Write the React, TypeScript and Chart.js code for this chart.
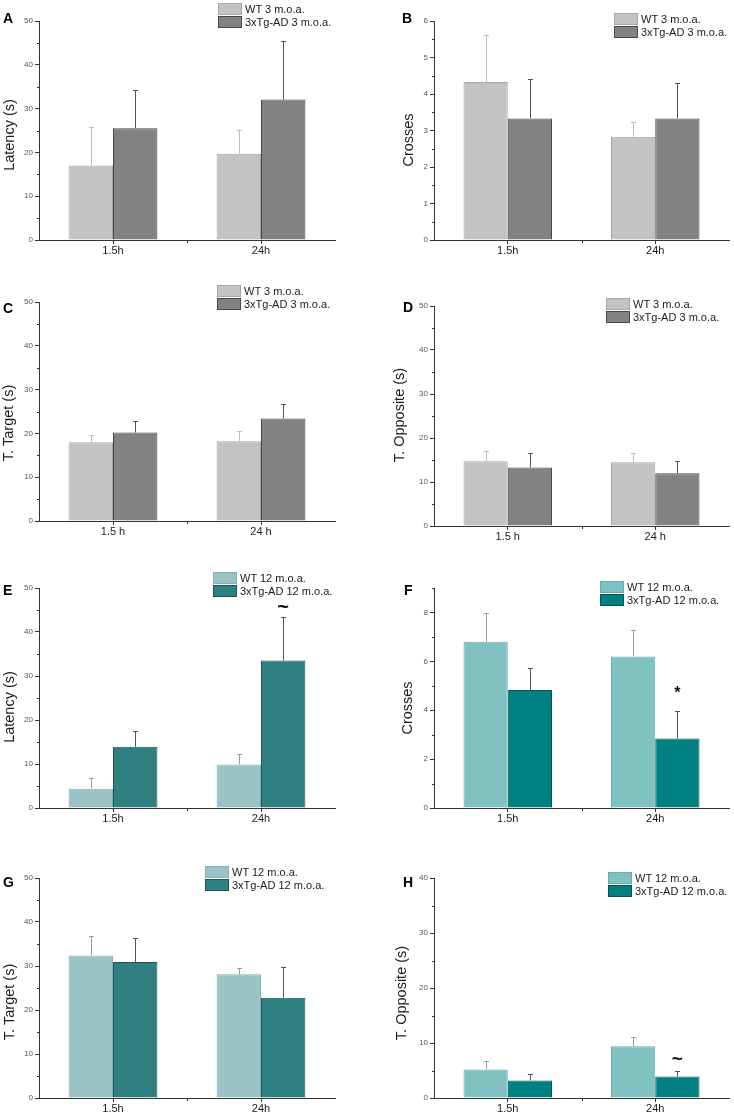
import React, { useEffect, useRef } from 'react';
import { Chart, registerables } from 'chart.js';

Chart.register(...registerables);

const FONT = 'Arial, "Liberation Sans", Helvetica, sans-serif';

// ---------------- data ----------------
const timeLabels = ['1.5h', '24h'];
const timeLabelsSpaced = ['1.5 h', '24 h'];
const legend3 = ['WT 3 m.o.a.', '3xTg-AD 3 m.o.a.'];
const legend12 = ['WT 12 m.o.a.', '3xTg-AD 12 m.o.a.'];

// A: Latency, 3 m.o.a.
const latency3WT = [17.0, 19.7];
const latency3WTErr = [8.9, 5.4];
const latency3Tg = [25.5, 32.1];
const latency3TgErr = [8.8, 13.4];

// B: Crosses, 3 m.o.a.
const crosses3WT = [4.33, 2.83];
const crosses3WTErr = [1.28, 0.39];
const crosses3Tg = [3.33, 3.33];
const crosses3TgErr = [1.07, 0.96];

// C: T. Target, 3 m.o.a.
const target3WT = [18.0, 18.2];
const target3WTErr = [1.7, 2.3];
const target3Tg = [20.2, 23.4];
const target3TgErr = [2.6, 3.2];

// D: T. Opposite, 3 m.o.a.
const opposite3WT = [14.7, 14.5];
const opposite3WTErr = [2.3, 2.2];
const opposite3Tg = [13.3, 12.0];
const opposite3TgErr = [3.3, 2.8];

// E: Latency, 12 m.o.a.
const latency12WT = [4.4, 9.9];
const latency12WTErr = [2.5, 2.3];
const latency12Tg = [13.9, 33.5];
const latency12TgErr = [3.7, 9.9];
const latency12Marks = ['', '~'];

// F: Crosses, 12 m.o.a.
const crosses12WT = [6.8, 6.2];
const crosses12WTErr = [1.16, 1.1];
const crosses12Tg = [4.83, 2.84];
const crosses12TgErr = [0.88, 1.12];
const crosses12Marks = ['', '*'];

// G: T. Target, 12 m.o.a.
const target12WT = [32.4, 28.1];
const target12WTErr = [4.5, 1.4];
const target12Tg = [30.9, 22.8];
const target12TgErr = [5.4, 6.9];

// H: T. Opposite, 12 m.o.a.
const opposite12WT = [5.2, 9.4];
const opposite12WTErr = [1.6, 1.7];
const opposite12Tg = [3.2, 3.9];
const opposite12TgErr = [1.1, 1.0];
const opposite12Marks = ['', '~'];

// ---------------- styles ----------------
const STYLE_GRAY = [
  { fill: '#C3C3C3', border: '#A6A6A6', err: '#BDBDBD' },
  { fill: '#828282', border: '#474747', err: '#555555' },
];
const STYLE_TEAL_SOFT = [
  { fill: '#9BC3C6', border: '#86AFB2', err: '#9C9C9C' },
  { fill: '#2F8181', border: '#1D5656', err: '#555555' },
];
const STYLE_TEAL = [
  { fill: '#80C1C1', border: '#6BAEAE', err: '#9C9C9C' },
  { fill: '#008080', border: '#005454', err: '#555555' },
];

type Panel = {
  letter: string;
  letterPos: [number, number];
  area: [number, number, number, number]; // left, right, top, bottom
  yW: number;
  yMax: number;
  yStep: number;
  yTitle: string;
  titlePos: [number, number];
  cats: string[];
  legendLabels: string[];
  legendPos: [number, number];
  style: typeof STYLE_GRAY;
  series: number[][];
  errors: number[][];
  marks?: string[];
  markSize?: number;
  markOffset?: number;
};

const panels: Panel[] = [
  {
    letter: 'A', letterPos: [3, 18], area: [39, 335, 21, 240], yW: 39, yMax: 50, yStep: 10,
    yTitle: 'Latency (s)', titlePos: [9.5, 135], cats: timeLabels, legendLabels: legend3, legendPos: [218, 3],
    style: STYLE_GRAY, series: [latency3WT, latency3Tg], errors: [latency3WTErr, latency3TgErr],
  },
  {
    letter: 'B', letterPos: [402, 18], area: [434, 729, 21, 240], yW: 45, yMax: 6, yStep: 1,
    yTitle: 'Crosses', titlePos: [408.7, 140], cats: timeLabels, legendLabels: legend3, legendPos: [614, 13],
    style: STYLE_GRAY, series: [crosses3WT, crosses3Tg], errors: [crosses3WTErr, crosses3TgErr],
  },
  {
    letter: 'C', letterPos: [3, 307.5], area: [39, 335, 302, 521], yW: 39, yMax: 50, yStep: 10,
    yTitle: 'T. Target (s)', titlePos: [9, 423], cats: timeLabelsSpaced, legendLabels: legend3, legendPos: [217, 285],
    style: STYLE_GRAY, series: [target3WT, target3Tg], errors: [target3WTErr, target3TgErr],
  },
  {
    letter: 'D', letterPos: [403, 307], area: [434, 729, 306, 526], yW: 45, yMax: 50, yStep: 10,
    yTitle: 'T. Opposite (s)', titlePos: [400.3, 415], cats: timeLabelsSpaced, legendLabels: legend3, legendPos: [606, 298],
    style: STYLE_GRAY, series: [opposite3WT, opposite3Tg], errors: [opposite3WTErr, opposite3TgErr],
  },
  {
    letter: 'E', letterPos: [3, 590], area: [39, 335, 588, 808], yW: 39, yMax: 50, yStep: 10,
    yTitle: 'Latency (s)', titlePos: [9.5, 707], cats: timeLabels, legendLabels: legend12, legendPos: [213, 572],
    style: STYLE_TEAL_SOFT, series: [latency12WT, latency12Tg], errors: [latency12WTErr, latency12TgErr],
    marks: latency12Marks, markSize: 20, markOffset: 10,
  },
  {
    letter: 'F', letterPos: [404, 590], area: [434, 729, 588, 808], yW: 45, yMax: 9, yStep: 2,
    yTitle: 'Crosses', titlePos: [408, 708], cats: timeLabels, legendLabels: legend12, legendPos: [600, 581],
    style: STYLE_TEAL, series: [crosses12WT, crosses12Tg], errors: [crosses12WTErr, crosses12TgErr],
    marks: crosses12Marks, markSize: 16, markOffset: 18,
  },
  {
    letter: 'G', letterPos: [3, 882], area: [39, 335, 878, 1098], yW: 39, yMax: 50, yStep: 10,
    yTitle: 'T. Target (s)', titlePos: [9.5, 1002], cats: timeLabels, legendLabels: legend12, legendPos: [205, 866],
    style: STYLE_TEAL_SOFT, series: [target12WT, target12Tg], errors: [target12WTErr, target12TgErr],
  },
  {
    letter: 'H', letterPos: [403, 882], area: [434, 729, 878, 1098], yW: 45, yMax: 40, yStep: 10,
    yTitle: 'T. Opposite (s)', titlePos: [402, 993], cats: timeLabels, legendLabels: legend12, legendPos: [608, 872],
    style: STYLE_TEAL, series: [opposite12WT, opposite12Tg], errors: [opposite12WTErr, opposite12TgErr],
    marks: opposite12Marks, markSize: 19, markOffset: 11,
  },
];

const PAD_TOP = 10;
const PAD_RIGHT = 4;
const X_H = 24;

// ---------------- plugins ----------------
const errorBarsPlugin = {
  id: 'errorBars',
  afterDatasetsDraw(chart: any) {
    const { ctx } = chart;
    const y = chart.scales.y;
    chart.data.datasets.forEach((ds: any, i: number) => {
      const meta = chart.getDatasetMeta(i);
      meta.data.forEach((bar: any, j: number) => {
        const v = ds.data[j];
        const e = ds.errors ? ds.errors[j] : 0;
        if (!e) return;
        const x = Math.round(bar.x) + 0.5;
        const yTop = Math.round(y.getPixelForValue(v + e)) + 0.5;
        ctx.save();
        ctx.strokeStyle = ds.errorColor;
        ctx.lineWidth = 1;
        ctx.beginPath();
        ctx.moveTo(x, bar.y);
        ctx.lineTo(x, yTop);
        ctx.moveTo(x - 2.5, yTop);
        ctx.lineTo(x + 2.5, yTop);
        ctx.stroke();
        ctx.restore();
      });
    });
  },
};

const marksPlugin = {
  id: 'sigMarks',
  afterDatasetsDraw(chart: any, _args: any, opts: any) {
    if (!opts || !opts.marks) return;
    const { ctx } = chart;
    const dsIndex = opts.dataset;
    const ds = chart.data.datasets[dsIndex];
    const meta = chart.getDatasetMeta(dsIndex);
    const y = chart.scales.y;
    for (let j = 0; j < opts.marks.length; j++) {
      const m = opts.marks[j];
      if (!m) continue;
      const bar = meta.data[j];
      const yTop = y.getPixelForValue(ds.data[j] + ds.errors[j]);
      ctx.save();
      ctx.font = `bold ${opts.size}px ${FONT}`;
      ctx.fillStyle = '#111';
      ctx.textAlign = 'center';
      ctx.textBaseline = 'middle';
      ctx.fillText(m, bar.x, yTop - opts.offset);
      ctx.restore();
    }
  },
};

const minorTicksPlugin = {
  id: 'minorTicks',
  afterDraw(chart: any, _args: any, opts: any) {
    const { ctx, chartArea } = chart;
    const y = chart.scales.y;
    const x = chart.scales.x;
    const step = opts.step;
    const major = opts.major;
    ctx.save();
    ctx.strokeStyle = '#333';
    ctx.lineWidth = 1;
    ctx.beginPath();
    for (let k = 1; k * step <= y.max + 1e-9; k++) {
      const v = k * step;
      const r = v / major;
      if (Math.abs(r - Math.round(r)) < 1e-6) continue;
      const py = Math.round(y.getPixelForValue(v)) + 0.5;
      ctx.moveTo(chartArea.left - 2, py);
      ctx.lineTo(chartArea.left, py);
    }
    const n = x.ticks.length;
    for (let k = 0; k < n - 1; k++) {
      const px = Math.round((x.getPixelForTick(k) + x.getPixelForTick(k + 1)) / 2) + 0.5;
      ctx.moveTo(px, chartArea.bottom);
      ctx.lineTo(px, chartArea.bottom + 3);
    }
    ctx.stroke();
    ctx.restore();
  },
};

const yTitlePlugin = {
  id: 'yTitle',
  afterDraw(chart: any, _args: any, opts: any) {
    if (!opts || !opts.text) return;
    const { ctx } = chart;
    ctx.save();
    ctx.translate(opts.x, opts.y);
    ctx.rotate(-Math.PI / 2);
    ctx.font = `14.5px ${FONT}`;
    ctx.fillStyle = '#1a1a1a';
    ctx.textAlign = 'center';
    ctx.textBaseline = 'middle';
    ctx.fillText(opts.text, 0, 0);
    ctx.restore();
  },
};

// ---------------- components ----------------
function PanelChart({ p }: { p: Panel }) {
  const ref = useRef<HTMLCanvasElement | null>(null);
  const [left, right, top, bottom] = p.area;
  const cLeft = left - p.yW;
  const cTop = top - PAD_TOP;
  const cW = right - left + p.yW + PAD_RIGHT;
  const cH = bottom - top + PAD_TOP + X_H;

  useEffect(() => {
    if (!ref.current) return;
    const axisGrid = {
      display: true,
      drawOnChartArea: false,
      drawTicks: true,
      tickLength: 4,
      color: '#333',
      tickColor: '#333',
      lineWidth: 1,
    };
    const chart = new Chart(ref.current, {
      type: 'bar',
      data: {
        labels: p.cats,
        datasets: p.series.map((data, i) => ({
          label: p.legendLabels[i],
          data,
          errors: p.errors[i],
          errorColor: p.style[i].err,
          backgroundColor: p.style[i].fill,
          borderColor: p.style[i].border,
          borderWidth: 1,
          categoryPercentage: 0.6,
          barPercentage: 1.0,
        })) as any,
      },
      options: {
        responsive: false,
        animation: false,
        devicePixelRatio: 1,
        events: [],
        layout: { padding: { left: 0, top: PAD_TOP, right: PAD_RIGHT, bottom: 0 } },
        plugins: {
          legend: { display: false },
          tooltip: { enabled: false },
          title: { display: false },
          yTitle: { text: p.yTitle, x: p.titlePos[0] - cLeft, y: p.titlePos[1] - cTop },
          minorTicks: { step: p.yStep / 2, major: p.yStep },
          sigMarks: p.marks
            ? { marks: p.marks, dataset: 1, size: p.markSize, offset: p.markOffset }
            : { marks: null },
        } as any,
        scales: {
          x: {
            type: 'category',
            offset: true,
            grid: { ...axisGrid, offset: false },
            border: { display: true, color: '#333', width: 1 },
            ticks: { padding: 0, color: '#1a1a1a', font: { family: FONT, size: 11 } },
            afterFit: (s: any) => {
              s.height = X_H;
            },
          },
          y: {
            type: 'linear',
            min: 0,
            max: p.yMax,
            grid: axisGrid,
            border: { display: true, color: '#333', width: 1 },
            ticks: {
              stepSize: p.yStep,
              includeBounds: false,
              padding: 2,
              color: '#555',
              font: { family: FONT, size: 8 },
              callback: (v: any) => String(v),
            },
            afterFit: (s: any) => {
              s.width = p.yW;
            },
          },
        } as any,
      },
      plugins: [errorBarsPlugin, marksPlugin, minorTicksPlugin, yTitlePlugin] as any,
    });
    return () => chart.destroy();
  }, []);

  return (
    <>
      <canvas
        ref={ref}
        width={cW}
        height={cH}
        style={{ position: 'absolute', left: cLeft, top: cTop, width: cW, height: cH }}
      />
      <div
        style={{
          position: 'absolute',
          left: p.letterPos[0],
          top: p.letterPos[1] - 7,
          font: `bold 14px ${FONT}`,
          lineHeight: '14px',
          color: '#000',
        }}
      >
        {p.letter}
      </div>
      {p.legendLabels.map((lab, i) => (
        <React.Fragment key={lab}>
          <div
            style={{
              position: 'absolute',
              left: p.legendPos[0],
              top: p.legendPos[1] + i * 13,
              width: 24,
              height: 12,
              boxSizing: 'border-box',
              background: p.style[i].fill,
              border: `1px solid ${p.style[i].border}`,
            }}
          />
          <div
            style={{
              position: 'absolute',
              left: p.legendPos[0] + 27,
              top: p.legendPos[1] + i * 13,
              font: `11px ${FONT}`,
              lineHeight: '12px',
              color: '#1a1a1a',
              whiteSpace: 'nowrap',
            }}
          >
            {lab}
          </div>
        </React.Fragment>
      ))}
    </>
  );
}

export default function App() {
  return (
    <div
      style={{
        position: 'absolute',
        left: 0,
        top: 0,
        width: 734,
        height: 1116,
        background: '#fff',
        overflow: 'hidden',
      }}
    >
      {panels.map((p) => (
        <PanelChart key={p.letter} p={p} />
      ))}
    </div>
  );
}
